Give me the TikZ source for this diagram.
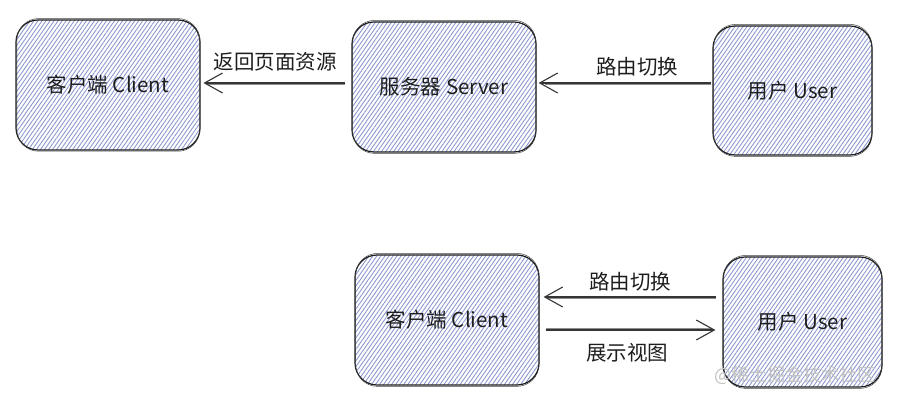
\documentclass[tikz,border=0pt]{standalone}
\usepackage{fontspec}
\newfontfamily\cjk{Noto Sans CJK SC}
\usetikzlibrary{patterns.meta,arrows.meta}
\definecolor{ink}{RGB}{30,30,30}
\definecolor{hatch}{RGB}{140,152,208}
\definecolor{wm}{RGB}{195,195,195}
\tikzset{
  box/.style={rectangle, rounded corners=22pt, draw=ink, line width=1.2pt,
    pattern={Lines[angle=55,distance=3.3pt,line width=0.9pt]}, pattern color=hatch,
    font=\cjk\fontsize{20.5}{24}\selectfont, text=ink, inner sep=0pt},
  sketch/.style={draw=ink!85, line width=0.5pt, rounded corners=22pt},
  arr/.style={draw=ink!90, line width=1.3pt,
    -{Straight Barb[length=18pt,width=20pt,line width=1.1pt]}},
  arrshadow/.style={draw=ink!50, line width=0.9pt},
  lbl/.style={font=\cjk\fontsize{20.5}{24}\selectfont, text=ink, inner sep=0pt},
  wmark/.style={font=\cjk\fontsize{18}{21}\selectfont, text=wm, inner sep=0pt}
}
\begin{document}
\begin{tikzpicture}[x=1pt,y=-1pt]
\useasboundingbox (0,0) rectangle (903,403);
% boxes
\node[box, minimum width=184pt, minimum height=130pt] (b1) at (108,85) {客户端 Client};
\node[box, minimum width=184pt, minimum height=130pt] (b2) at (444,87) {服务器 Server};
\node[box, minimum width=159pt, minimum height=129pt] (b3) at (792.5,90.5) {用户 User};
\node[box, minimum width=184pt, minimum height=130pt] (b4) at (447,320) {客户端 Client};
\node[box, minimum width=159pt, minimum height=130pt] (b5) at (802.5,322) {用户 User};
% sketchy second outlines
\foreach \b in {b1,b2,b3,b4,b5}{
  \draw[sketch] ([shift={(1.2pt,-0.8pt)}]\b.south west) rectangle ([shift={(-0.6pt,1pt)}]\b.north east);
}
% arrow coordinates
\coordinate (s1) at ([yshift=4pt]b2.west);
\coordinate (t1) at (s1 -| b1.east);
\coordinate (s2) at ([yshift=7.5pt]b3.west);
\coordinate (t2) at (s2 -| b2.east);
\coordinate (s3) at ([yshift=25pt]b5.west);
\coordinate (t3) at (s3 -| b4.east);
\coordinate (s4) at ([yshift=-10pt]b4.east);
\coordinate (t4) at (s4 -| b5.west);
% arrows
\draw[arrshadow, shorten <=6pt, shorten >=8pt] ([yshift=-1.6pt]s1) -- ([yshift=-1.6pt]t1);
\draw[arr, shorten <=6pt, shorten >=3pt] (s1) -- (t1);
\draw[arrshadow, shorten <=1pt, shorten >=8pt] ([yshift=-1.6pt]s2) -- ([yshift=-1.6pt]t2);
\draw[arr, shorten <=1pt, shorten >=2pt] (s2) -- (t2);
\draw[arrshadow, shorten <=6pt, shorten >=8pt] ([yshift=-1.6pt]s3) -- ([yshift=-1.6pt]t3);
\draw[arr, shorten <=6pt, shorten >=4pt] (s3) -- (t3);
\draw[arrshadow, shorten <=6pt, shorten >=10pt] ([yshift=1.6pt]s4) -- ([yshift=1.6pt]t4);
\draw[arr, shorten <=6pt, shorten >=7pt] (s4) -- (t4);
% labels
\node[lbl] (l1) at (275,62) {返回页面资源};
\node[lbl] (l2) at (637,67) {路由切换};
\node[lbl] (l3) at (630,282) {路由切换};
\node[lbl] (l4) at (627,353) {展示视图};
% watermark
\node[wmark] (wm) at (795,375) {@稀土掘金技术社区};
\end{tikzpicture}
\end{document}
